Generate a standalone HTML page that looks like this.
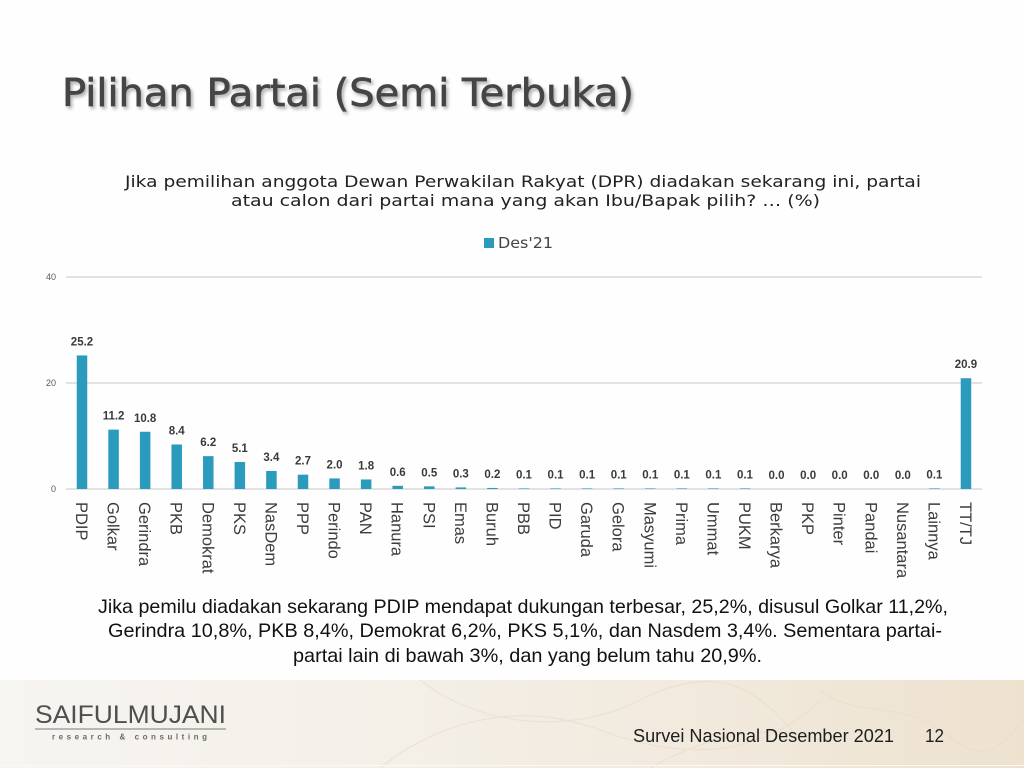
<!DOCTYPE html>
<html>
<head>
<meta charset="utf-8">
<style>
html,body{margin:0;padding:0;background:#fff;}
svg{display:block;}
</style>
</head>
<body>
<svg width="1024" height="768" viewBox="0 0 1024 768" xmlns="http://www.w3.org/2000/svg">
<defs>
<filter id="sh" x="-5%" y="-20%" width="110%" height="150%">
<feDropShadow dx="2" dy="2.5" stdDeviation="1.5" flood-color="#7a7a7a" flood-opacity="0.6"/>
</filter>
<linearGradient id="ft" x1="0" y1="0" x2="1" y2="0">
<stop offset="0" stop-color="#f7f5f1"/>
<stop offset="0.35" stop-color="#f4f0e9"/>
<stop offset="0.7" stop-color="#f1e9dc"/>
<stop offset="1" stop-color="#eee2cf"/>
</linearGradient>
</defs>
<rect width="1024" height="768" fill="#fefefe"/>

<!-- Title -->
<text x="62" y="106" font-family="DejaVu Sans, Liberation Sans, sans-serif" font-size="38" fill="#454545" stroke="#454545" stroke-width="0.7" textLength="572" lengthAdjust="spacingAndGlyphs" filter="url(#sh)">Pilihan Partai (Semi Terbuka)</text>

<!-- Subtitle -->
<g font-family="DejaVu Sans, Liberation Sans, sans-serif" font-size="16" fill="#222">
<text x="125" y="187" textLength="796" lengthAdjust="spacingAndGlyphs">Jika pemilihan anggota Dewan Perwakilan Rakyat (DPR) diadakan sekarang ini, partai</text>
<text x="231" y="206" textLength="589" lengthAdjust="spacingAndGlyphs">atau calon dari partai mana yang akan Ibu/Bapak pilih?  … (%)</text>
</g>

<!-- Legend -->
<rect x="484" y="238" width="10" height="10" fill="#2b9bbd"/>
<text x="498" y="248" font-family="DejaVu Sans, Liberation Sans, sans-serif" font-size="15" fill="#444" textLength="55" lengthAdjust="spacingAndGlyphs">Des'21</text>

<!-- Gridlines -->
<g stroke="#d9d9d9" stroke-width="1.5">
<line x1="66" y1="277" x2="982" y2="277"/>
<line x1="66" y1="383" x2="982" y2="383"/>
<line x1="66" y1="489" x2="982" y2="489"/>
</g>
<g font-family="Liberation Sans, sans-serif" font-size="9" fill="#595959" text-anchor="end">
<text x="56" y="280">40</text>
<text x="56" y="386">20</text>
<text x="56" y="492">0</text>
</g>

<!-- Bars -->
<g fill="#2b9bbd">
<rect x="76.75" y="355.44" width="10.5" height="133.56"/>
<rect x="108.32" y="429.64" width="10.5" height="59.36"/>
<rect x="139.89" y="431.76" width="10.5" height="57.24"/>
<rect x="171.46" y="444.48" width="10.5" height="44.52"/>
<rect x="203.03" y="456.14" width="10.5" height="32.86"/>
<rect x="234.6" y="461.97" width="10.5" height="27.03"/>
<rect x="266.17" y="470.98" width="10.5" height="18.02"/>
<rect x="297.74" y="474.69" width="10.5" height="14.31"/>
<rect x="329.31" y="478.4" width="10.5" height="10.6"/>
<rect x="360.88" y="479.46" width="10.5" height="9.54"/>
<rect x="392.45" y="485.82" width="10.5" height="3.18"/>
<rect x="424.02" y="486.35" width="10.5" height="2.65"/>
<rect x="455.59" y="487.41" width="10.5" height="1.59"/>
<rect x="487.16" y="487.94" width="10.5" height="1.06"/>
<rect x="518.73" y="488.47" width="10.5" height="0.53"/>
<rect x="550.3" y="488.47" width="10.5" height="0.53"/>
<rect x="581.87" y="488.47" width="10.5" height="0.53"/>
<rect x="613.44" y="488.47" width="10.5" height="0.53"/>
<rect x="645.01" y="488.47" width="10.5" height="0.53"/>
<rect x="676.58" y="488.47" width="10.5" height="0.53"/>
<rect x="708.15" y="488.47" width="10.5" height="0.53"/>
<rect x="739.72" y="488.47" width="10.5" height="0.53"/>
<rect x="929.14" y="488.47" width="10.5" height="0.53"/>
<rect x="960.71" y="378.23" width="10.5" height="110.77"/>
</g>

<!-- Value labels -->
<g font-family="Liberation Sans, sans-serif" font-size="11.5" font-weight="bold" fill="#3a3a3a" text-anchor="middle">
<text x="82" y="345.4">25.2</text>
<text x="113.57" y="419.6">11.2</text>
<text x="145.14" y="421.8">10.8</text>
<text x="176.71" y="434.5">8.4</text>
<text x="208.28" y="446.1">6.2</text>
<text x="239.85" y="452">5.1</text>
<text x="271.42" y="461">3.4</text>
<text x="302.99" y="464.7">2.7</text>
<text x="334.56" y="468.4">2.0</text>
<text x="366.13" y="469.5">1.8</text>
<text x="397.7" y="475.8">0.6</text>
<text x="429.27" y="476.4">0.5</text>
<text x="460.84" y="477.4">0.3</text>
<text x="492.41" y="477.9">0.2</text>
<text x="523.98" y="478.5">0.1</text>
<text x="555.55" y="478.5">0.1</text>
<text x="587.12" y="478.5">0.1</text>
<text x="618.69" y="478.5">0.1</text>
<text x="650.26" y="478.5">0.1</text>
<text x="681.83" y="478.5">0.1</text>
<text x="713.4" y="478.5">0.1</text>
<text x="744.97" y="478.5">0.1</text>
<text x="776.54" y="479">0.0</text>
<text x="808.11" y="479">0.0</text>
<text x="839.68" y="479">0.0</text>
<text x="871.25" y="479">0.0</text>
<text x="902.82" y="479">0.0</text>
<text x="934.39" y="478.5">0.1</text>
<text x="965.96" y="368.2">20.9</text>
</g>

<!-- Category labels -->
<g font-family="Liberation Sans, sans-serif" font-size="16.5" fill="#3c3c3c">
<text x="76" y="502" transform="rotate(90 76 502)">PDIP</text>
<text x="107.57" y="502" transform="rotate(90 107.57 502)">Golkar</text>
<text x="139.14" y="502" transform="rotate(90 139.14 502)">Gerindra</text>
<text x="170.71" y="502" transform="rotate(90 170.71 502)">PKB</text>
<text x="202.28" y="502" transform="rotate(90 202.28 502)">Demokrat</text>
<text x="233.85" y="502" transform="rotate(90 233.85 502)">PKS</text>
<text x="265.42" y="502" transform="rotate(90 265.42 502)">NasDem</text>
<text x="296.99" y="502" transform="rotate(90 296.99 502)">PPP</text>
<text x="328.56" y="502" transform="rotate(90 328.56 502)">Perindo</text>
<text x="360.13" y="502" transform="rotate(90 360.13 502)">PAN</text>
<text x="391.7" y="502" transform="rotate(90 391.7 502)">Hanura</text>
<text x="423.27" y="502" transform="rotate(90 423.27 502)">PSI</text>
<text x="454.84" y="502" transform="rotate(90 454.84 502)">Emas</text>
<text x="486.41" y="502" transform="rotate(90 486.41 502)">Buruh</text>
<text x="517.98" y="502" transform="rotate(90 517.98 502)">PBB</text>
<text x="549.55" y="502" transform="rotate(90 549.55 502)">PID</text>
<text x="581.12" y="502" transform="rotate(90 581.12 502)">Garuda</text>
<text x="612.69" y="502" transform="rotate(90 612.69 502)">Gelora</text>
<text x="644.26" y="502" transform="rotate(90 644.26 502)">Masyumi</text>
<text x="675.83" y="502" transform="rotate(90 675.83 502)">Prima</text>
<text x="707.4" y="502" transform="rotate(90 707.4 502)">Ummat</text>
<text x="738.97" y="502" transform="rotate(90 738.97 502)">PUKM</text>
<text x="770.54" y="502" transform="rotate(90 770.54 502)">Berkarya</text>
<text x="802.11" y="502" transform="rotate(90 802.11 502)">PKP</text>
<text x="833.68" y="502" transform="rotate(90 833.68 502)">Pinter</text>
<text x="865.25" y="502" transform="rotate(90 865.25 502)">Pandai</text>
<text x="896.82" y="502" transform="rotate(90 896.82 502)">Nusantara</text>
<text x="928.39" y="502" transform="rotate(90 928.39 502)">Lainnya</text>
<text x="959.96" y="502" transform="rotate(90 959.96 502)">TT/TJ</text>
</g>

<!-- Paragraph -->
<g font-family="Liberation Sans, Arial, sans-serif" font-size="19.5" fill="#111">
<text x="98" y="613" textLength="850" lengthAdjust="spacingAndGlyphs">Jika pemilu diadakan sekarang PDIP mendapat dukungan terbesar, 25,2%, disusul Golkar 11,2%,</text>
<text x="108" y="637" textLength="834" lengthAdjust="spacingAndGlyphs">Gerindra 10,8%, PKB 8,4%, Demokrat 6,2%, PKS 5,1%, dan Nasdem 3,4%. Sementara partai-</text>
<text x="293" y="662" textLength="469" lengthAdjust="spacingAndGlyphs">partai lain di bawah 3%, dan yang belum tahu 20,9%.</text>
</g>

<!-- Footer -->
<rect x="0" y="680" width="1024" height="88" fill="url(#ft)"/>
<g fill="none" stroke="#e6dccb" stroke-width="1.2" opacity="0.6">
<path d="M380 768 C 440 720, 520 700, 600 730 S 760 760, 820 700"/>
<path d="M420 680 C 470 720, 560 740, 640 700 S 760 690, 800 740"/>
<path d="M820 690 C 860 720, 900 700, 940 730 S 990 760, 1024 720"/>
<path d="M650 768 C 700 740, 760 720, 820 740"/>
</g>
<line x1="0" y1="765.5" x2="1024" y2="765.5" stroke="#fbf9f6" stroke-width="1"/>

<text x="35" y="723" font-family="Liberation Sans, sans-serif" font-size="25" fill="#4f4f4f" textLength="191" lengthAdjust="spacingAndGlyphs">SAIFULMUJANI</text>
<line x1="35" y1="729" x2="226" y2="729" stroke="#7a7a7a" stroke-width="1"/>
<text x="52" y="739.5" font-family="Liberation Sans, sans-serif" font-size="8" font-weight="bold" fill="#6a6a6a" textLength="155" lengthAdjust="spacing">research &amp; consulting</text>

<g font-family="Liberation Sans, sans-serif" font-size="18" fill="#1e1e1e">
<text x="633" y="742" textLength="261" lengthAdjust="spacingAndGlyphs">Survei Nasional Desember 2021</text>
<text x="925" y="742" textLength="19" lengthAdjust="spacingAndGlyphs">12</text>
</g>
</svg>
</body>
</html>
